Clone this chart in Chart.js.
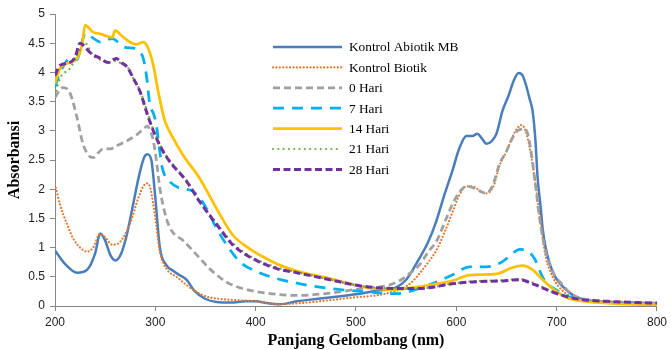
<!DOCTYPE html>
<html>
<head>
<meta charset="utf-8">
<script src="https://cdn.jsdelivr.net/npm/chart.js@4"></script>
<style>
  html, body { margin: 0; padding: 0; background: #fff; }
  #wrap { width: 671px; height: 350px; position: relative; }
</style>
</head>
<body>
<div id="wrap"><canvas id="c" width="671" height="350"></canvas></div>
<script>
// ---- data ----
const seriesLabels = ['Kontrol Abiotik MB', 'Kontrol Biotik', '0 Hari', '7 Hari', '14 Hari', '21 Hari', '28 Hari'];

const abiotikX = [200,210,222,232,240,245,250,255,260,266,272,278,284,289,292,296,300,304.5,311,318,324,331,339,350,361,375,390,400,411,424,441,460,480,500,520,540,550,563,572,580,588,596,603,610,616,621,625,630,635,640,646,652,657,662,666,670,673,676,679,681,684,686,689,692.5,697,702,712,720,735,760,800];
const abiotikY = [0.95,0.72,0.57,0.62,0.9,1.24,1.12,0.88,0.78,0.9,1.25,1.75,2.25,2.55,2.6,2.5,1.85,1.0,0.7,0.6,0.53,0.45,0.26,0.12,0.07,0.06,0.08,0.08,0.05,0.03,0.08,0.12,0.16,0.2,0.26,0.32,0.45,0.81,1.1,1.45,1.9,2.31,2.7,2.91,2.91,2.95,2.88,2.78,2.82,2.95,3.34,3.6,3.85,3.99,3.95,3.75,3.55,3.34,2.8,2.2,1.7,1.33,1.0,0.76,0.55,0.41,0.24,0.15,0.09,0.06,0.04];

const biotikX = [200,205,212,218,225,232,238,245,250,257,265,275,283,288,292,295,300,304.5,311,321,331,340,351,365,380,400,424,445,474,500,523,546,555,563,572,580,588,596,603,610,616,623,630,637,643,650,656,661,665,669,673,678,683,689,696,706,716,725,740,760,780,800];
const biotikY = [2.08,1.74,1.4,1.16,1.0,0.93,1.0,1.24,1.18,1.05,1.1,1.42,1.85,2.05,2.1,2.02,1.5,0.93,0.64,0.5,0.36,0.25,0.16,0.12,0.1,0.08,0.03,0.05,0.1,0.15,0.19,0.3,0.4,0.55,0.75,0.95,1.25,1.6,1.9,2.05,2.05,1.98,1.93,2.05,2.4,2.65,2.9,3.05,3.1,3.0,2.72,2.2,1.55,0.85,0.5,0.26,0.15,0.1,0.07,0.05,0.04,0.03];

const hari0X = [200,204,208,212,216,222,228,234,238,243,248,255,262,272,282,288,292,295,298,301,304.5,311,317,327,341,354,371,387,411,441,474,506,533,545,553,563,573,580,590,596,603,610,616,623,630,637,643,650,656,661,666,670,674,678,683,689,696,706,715,725,740,760,800];
const hari0Y = [3.57,3.68,3.74,3.72,3.6,3.22,2.77,2.57,2.54,2.62,2.69,2.69,2.75,2.83,2.94,3.03,3.08,3.0,2.83,2.5,2.02,1.5,1.27,1.13,0.88,0.64,0.41,0.3,0.22,0.18,0.22,0.3,0.36,0.45,0.55,0.7,0.95,1.1,1.5,1.74,1.95,2.05,2.03,1.97,1.93,2.1,2.43,2.65,2.88,3.0,3.03,3.0,2.7,2.19,1.5,0.93,0.59,0.36,0.2,0.13,0.09,0.07,0.05];

const hari7X = [200,205,210,215,222,226,230,237,245,251,257,264,270,280,285,288,291.5,294.5,298,301,304,307,314,324,337,344,351,361,371,384,401,421,441,474,513,540,563,580,596,613,630,646,656,663,670,678,685,689,699,712,725,750,800];
const hari7Y = [3.75,4.0,4.15,4.26,4.22,4.45,4.67,4.6,4.52,4.55,4.58,4.5,4.43,4.41,4.34,4.24,3.9,3.45,3.3,3.1,2.7,2.36,2.14,2.02,1.97,1.85,1.67,1.33,1.05,0.76,0.59,0.47,0.39,0.3,0.24,0.21,0.3,0.41,0.53,0.67,0.67,0.76,0.9,0.97,0.95,0.81,0.53,0.41,0.28,0.16,0.1,0.06,0.03];

const hari14X = [200,205,215,222,227,230,238,245,257,260,265,272,281,288,293,298,303,309.5,317,327,344,361,377,394,411,424,441,474,513,540,563,580,596,613,640,656,666,676,686,696,708,719,740,770,800];
const hari14Y = [3.81,4.07,4.17,4.24,4.47,4.81,4.69,4.66,4.6,4.72,4.65,4.55,4.48,4.52,4.41,4.12,3.66,3.17,2.9,2.6,2.19,1.67,1.22,0.98,0.81,0.7,0.6,0.47,0.31,0.28,0.33,0.38,0.43,0.53,0.55,0.66,0.69,0.62,0.45,0.3,0.16,0.1,0.06,0.03,0.02];

const hari21X = [200,205,215,222,227,230,238,248,255,261,266,272,278,285,291.5,298,306,314,331,344,361,377,394,421,441,474,506,540,563,596,613,646,663,676,696,710,725,750,780,800];
const hari21Y = [3.6,3.9,4.07,4.29,4.45,4.5,4.29,4.2,4.17,4.2,4.15,4.1,3.9,3.68,3.35,3.02,2.72,2.5,2.15,1.8,1.42,1.08,0.86,0.66,0.58,0.45,0.34,0.3,0.3,0.38,0.42,0.44,0.46,0.4,0.24,0.16,0.11,0.08,0.06,0.05];

const hari28X = [200,205,215,220,225,228,235,245,253,261,266,272,278,285,291.5,298,306,314,331,344,361,377,394,421,441,474,506,540,563,596,613,646,663,676,696,710,725,750,780,800];
const hari28Y = [3.95,4.12,4.17,4.26,4.5,4.47,4.34,4.24,4.17,4.24,4.17,4.09,3.9,3.66,3.31,3.0,2.7,2.48,2.14,1.79,1.4,1.05,0.84,0.64,0.57,0.45,0.34,0.3,0.3,0.38,0.41,0.43,0.45,0.38,0.24,0.16,0.11,0.08,0.06,0.05];

const xTickValues = [200,300,400,500,600,700,800];
const yTickLabels = ['0','0.5','1','1.5','2','2.5','3','3.5','4','4.5','5'];

function pts(xs, ys) { return xs.map((x, i) => ({ x: x, y: ys[i] })); }

const styles = [
  { color: '#4A7EBB', width: 2.5, dash: [], cap: 'butt' },
  { color: '#E8772E', width: 2.2, dash: [0.01, 3.4], cap: 'round' },
  { color: '#A0A0A0', width: 2.75, dash: [7, 4], cap: 'butt' },
  { color: '#00B0F0', width: 2.75, dash: [11, 8], cap: 'butt' },
  { color: '#FFC000', width: 2.75, dash: [], cap: 'butt' },
  { color: '#6FA541', width: 2.2, dash: [0.01, 5.3], cap: 'round' },
  { color: '#7030A0', width: 3, dash: [7, 3.5], cap: 'butt' }
];

const series = [
  pts(abiotikX, abiotikY), pts(biotikX, biotikY), pts(hari0X, hari0Y),
  pts(hari7X, hari7Y), pts(hari14X, hari14Y), pts(hari21X, hari21Y), pts(hari28X, hari28Y)
];

const datasets = series.map((d, i) => ({
  label: seriesLabels[i],
  data: d,
  borderColor: styles[i].color,
  backgroundColor: styles[i].color,
  borderWidth: styles[i].width,
  borderDash: styles[i].dash,
  borderCapStyle: styles[i].cap,
  pointRadius: 0,
  fill: false,
  tension: 0.4,
  cubicInterpolationMode: 'monotone',
  order: 6 - i
}));

const legendPlugin = {
  id: 'insideLegend',
  afterDraw(chart) {
    const ctx = chart.ctx;
    ctx.save();
    chart.data.datasets.forEach((ds, i) => {
      const y = 47 + i * 20.4;
      ctx.beginPath();
      ctx.strokeStyle = ds.borderColor;
      ctx.lineWidth = ds.borderWidth;
      ctx.lineCap = ds.borderCapStyle || 'butt';
      ctx.setLineDash(ds.borderDash || []);
      ctx.moveTo(273, y);
      ctx.lineTo(342, y);
      ctx.stroke();
      ctx.setLineDash([]);
      ctx.fillStyle = '#000';
      ctx.font = '13.3px "Liberation Serif", serif';
      ctx.textBaseline = 'middle';
      ctx.textAlign = 'left';
      ctx.fillText(ds.label, 349, y + 1);
    });
    ctx.restore();
  }
};

new Chart(document.getElementById('c'), {
  type: 'line',
  data: { datasets: datasets },
  plugins: [legendPlugin],
  options: {
    responsive: false,
    animation: false,
    devicePixelRatio: 1,
    layout: { padding: { top: 14, right: 13, bottom: 0, left: 0 } },
    plugins: { legend: { display: false }, tooltip: { enabled: false } },
    scales: {
      x: {
        type: 'linear', min: 200, max: 800,
        afterBuildTicks: (s) => { s.ticks = xTickValues.map(v => ({ value: v })); },
        afterFit: (s) => { s.height = 44; },
        ticks: { font: { family: 'Liberation Sans', size: 12 }, color: '#222', padding: 4, maxRotation: 0 },
        grid: { drawOnChartArea: false, drawTicks: true, tickLength: 5, color: '#868686' },
        border: { color: '#868686', width: 1 },
        title: { display: true, text: 'Panjang Gelombang (nm)', font: { family: 'Liberation Serif', size: 16, weight: 'bold' }, color: '#000', padding: { top: 0, bottom: 0 } }
      },
      y: {
        type: 'linear', min: 0, max: 5,
        ticks: { stepSize: 0.5, font: { family: 'Liberation Sans', size: 12 }, color: '#222', padding: 5,
                 callback: (v, i) => yTickLabels[i] },
        afterFit: (s) => { s.width = 55; },
        grid: { drawOnChartArea: false, drawTicks: true, tickLength: 5, color: '#868686' },
        border: { color: '#868686', width: 1 },
        title: { display: true, text: 'Absorbansi', font: { family: 'Liberation Serif', size: 16, weight: 'bold' }, color: '#000', padding: { top: 5, bottom: 0 } }
      }
    }
  }
});
</script>
</body>
</html>
